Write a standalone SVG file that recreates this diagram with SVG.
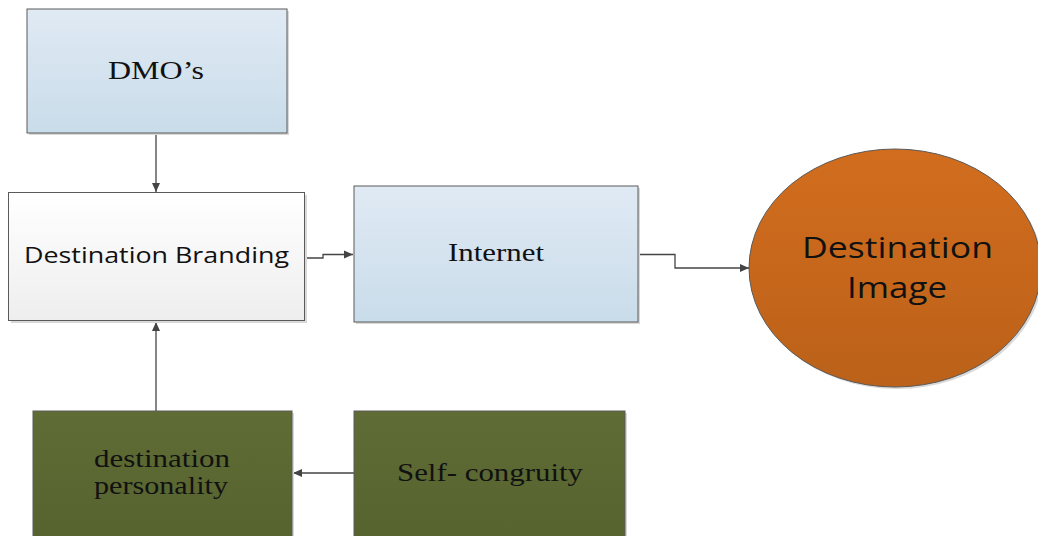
<svg xmlns="http://www.w3.org/2000/svg" width="1038" height="536" viewBox="0 0 1038 536">
<defs>
<linearGradient id="gBlue" x1="0" y1="0" x2="0" y2="1"><stop offset="0" stop-color="#e0eaf4"/><stop offset="1" stop-color="#c9dcea"/></linearGradient>
<linearGradient id="gWhite" x1="0" y1="0" x2="0" y2="1"><stop offset="0" stop-color="#ffffff"/><stop offset="1" stop-color="#eeeeee"/></linearGradient>
<linearGradient id="gGreen" x1="0" y1="0" x2="0" y2="1"><stop offset="0" stop-color="#5f6c35"/><stop offset="1" stop-color="#56632f"/></linearGradient>
<linearGradient id="gOrange" x1="0" y1="0" x2="0" y2="1"><stop offset="0" stop-color="#d26d1e"/><stop offset="1" stop-color="#bb6119"/></linearGradient>
<marker id="arr" markerWidth="10" markerHeight="10" refX="9" refY="5" orient="auto" markerUnits="userSpaceOnUse">
<path d="M0,1 L9,5 L0,9 Z" fill="#444"/>
</marker>
</defs>
<style>
.box{stroke:#5a5a5a;stroke-width:1}
.sh{fill:#d8d8d8}
.serif{font-family:"Liberation Serif","Times New Roman",serif;font-size:25.5px;fill:#111}
.sans{font-family:"Open Sans","Liberation Sans",sans-serif;fill:#111}
.conn{fill:none;stroke:#444;stroke-width:1.3;marker-end:url(#arr)}
</style>
<g id="connectors">
<path class="conn" d="M156,133 V192"/>
<path class="conn" d="M156,411 V322"/>
<path class="conn" d="M354,473 H293"/>
<path class="conn" d="M305,258 H323 V254.5 H353"/>
<path class="conn" d="M638,254.5 H675 V268 H749"/>
</g>
<g id="dmo">
<rect class="sh" x="29" y="11" width="260" height="124"/>
<rect class="box" x="27" y="9" width="260" height="124" fill="url(#gBlue)"/>
<text class="serif" transform="translate(108,79) scale(1.22,1)" textLength="78.7" lengthAdjust="spacingAndGlyphs">DMO’s</text>
</g>
<g id="branding">
<rect class="sh" x="11" y="195" width="296" height="128"/>
<rect class="box" x="8.5" y="192.5" width="296" height="128" fill="url(#gWhite)"/>
<text class="sans" font-size="21" x="24" y="263" textLength="265" lengthAdjust="spacingAndGlyphs">Destination Branding</text>
</g>
<g id="internet">
<rect class="sh" x="356" y="188" width="284" height="136"/>
<rect class="box" x="354" y="186" width="284" height="136" fill="url(#gBlue)"/>
<text class="serif" transform="translate(448,261) scale(1.22,1)" textLength="78.7" lengthAdjust="spacingAndGlyphs">Internet</text>
</g>
<g id="image">
<ellipse cx="897" cy="270" rx="146" ry="119" fill="#d9d9d9"/>
<ellipse cx="895" cy="268" rx="146" ry="119" fill="url(#gOrange)" stroke="#5a5a5a" stroke-width="1"/>
<text class="sans" font-size="29" x="802" y="258" textLength="191" lengthAdjust="spacingAndGlyphs">Destination</text>
<text class="sans" font-size="29" x="847" y="298" textLength="100" lengthAdjust="spacingAndGlyphs">Image</text>
</g>
<g id="personality">
<rect class="sh" x="35" y="413" width="259" height="130"/>
<rect class="box" x="33" y="411" width="259" height="130" fill="url(#gGreen)"/>
<text class="serif" transform="translate(94,467) scale(1.22,1)" textLength="111.5" lengthAdjust="spacingAndGlyphs">destination</text>
<text class="serif" transform="translate(94,494) scale(1.22,1)" textLength="109.8" lengthAdjust="spacingAndGlyphs">personality</text>
</g>
<g id="selfcongruity">
<rect class="sh" x="356" y="413" width="271" height="130"/>
<rect class="box" x="354" y="411" width="271" height="130" fill="url(#gGreen)"/>
<text class="serif" transform="translate(397,481) scale(1.22,1)" textLength="152.5" lengthAdjust="spacingAndGlyphs">Self- congruity</text>
</g>
</svg>
